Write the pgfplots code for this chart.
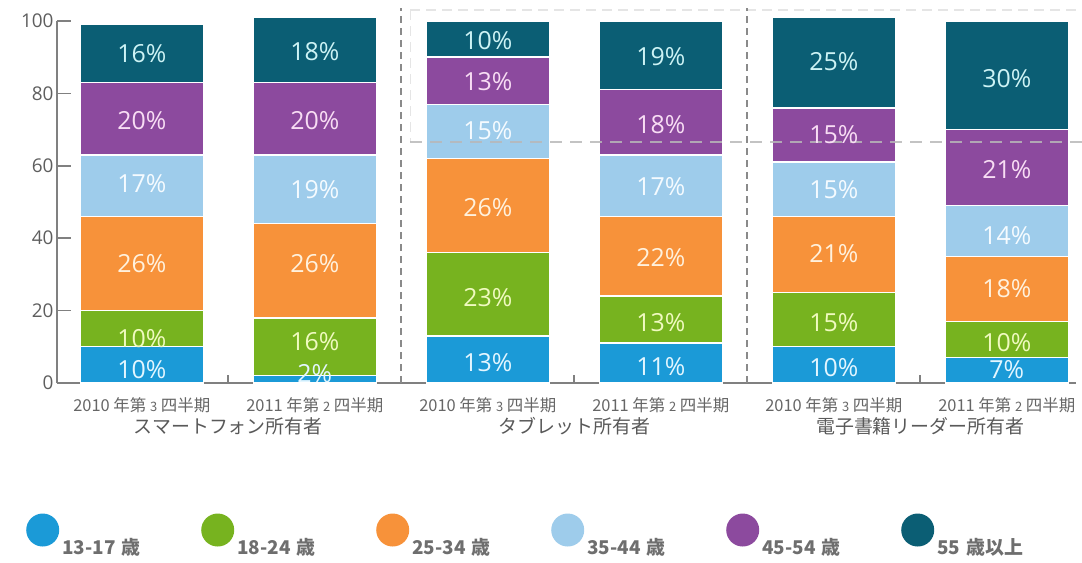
\documentclass[border=0pt]{standalone}
\usepackage{pgfplots}
\pgfplotsset{compat=1.18}
\usepackage{pgfplotstable}
\usepackage{fontspec}
\setmainfont{Open Sans}
\newfontfamily\cjk{Noto Sans CJK JP}
\definecolor{cA}{HTML}{1B9AD7}
\definecolor{cB}{HTML}{77B31F}
\definecolor{cC}{HTML}{F7923A}
\definecolor{cD}{HTML}{9ECCEB}
\definecolor{cE}{HTML}{8C4A9E}
\definecolor{cF}{HTML}{0B5E74}
\definecolor{tA}{HTML}{E3F6FF}
\definecolor{tB}{HTML}{F0FAC0}
\definecolor{tC}{HTML}{FFF1DD}
\definecolor{tD}{HTML}{F5FBFF}
\definecolor{tE}{HTML}{F8DDF4}
\definecolor{tF}{HTML}{CDF3F5}
\definecolor{axgray}{HTML}{808080}
\definecolor{tickgray}{HTML}{5E5E5E}
\definecolor{labgray}{HTML}{666666}
\definecolor{leggray}{HTML}{6E6E6E}
\definecolor{sepgray}{HTML}{8A8A8A}

\pgfplotstableread{
x a b c d e f ya yb yc yd ye yf
0 10 10 26 17 20 16 3.6 12.4 33.0 55.0 72.5 91.0
1 2 16 26 19 20 18 2.5 11.3 33.0 53.5 72.5 91.5
2 13 23 26 15 13 10 5.5 23.5 48.5 69.8 83.2 94.5
3 11 13 22 17 18 19 4.5 16.8 34.7 54.2 71.5 90.2
4 10 15 21 15 15 25 4.3 16.8 35.7 53.5 68.5 88.7
5 7 10 18 14 21 30 3.6 11.2 26.2 40.8 59.0 84.0
}\data

\pgfplotsset{
  base/.style={scale only axis, width=1018.97bp, height=362bp,
    xmin=-0.49, xmax=5.4, ymin=0, ymax=100,
    at={(57bp,180bp)}, anchor=south west, clip=false,
    /pgf/number format/assume math mode=true},
  circ/.style={legend image code/.code={\fill[##1,draw=none] (0bp,17bp) circle (16.5bp);}},
  lab/.style={draw=none, mark=none, point meta=explicit,
    nodes near coords={\pgfmathprintnumber{\pgfplotspointmeta}\%},
    every node near coord/.append style={anchor=center,
      font=\fontsize{25}{25}\selectfont, text=#1}},
}

\begin{document}
\begin{tikzpicture}
\useasboundingbox (0,0) rectangle (1082bp,563bp);
\begin{axis}[base,
  ybar stacked, bar width=0.711,
  axis lines*=left,
  axis line style={draw=axgray, line width=1.6bp},
  ytick={0,20,...,100},
  tick align=inside,
  major tick length=14bp,
  ytick style={draw=axgray, line width=1.6bp},
  yticklabel style={font=\fontsize{19}{19}\selectfont, text=tickgray},
  xtick={0,...,5},
  xtick style={draw=none},
  xticklabels={2010 年第 {\fontsize{13}{13}\selectfont 3} 四半期, 2011 年第 {\fontsize{13}{13}\selectfont 2} 四半期,
               2010 年第 {\fontsize{13}{13}\selectfont 3} 四半期, 2011 年第 {\fontsize{13}{13}\selectfont 2} 四半期,
               2010 年第 {\fontsize{13}{13}\selectfont 3} 四半期, 2011 年第 {\fontsize{13}{13}\selectfont 2} 四半期},
  xticklabel style={font=\cjk\fontsize{16.5}{16.5}\selectfont, text=labgray, anchor=center, yshift=-22bp},
  legend columns=6,
  legend style={at={(-0.0304,-0.36)}, anchor=north west, draw=none, fill=none,
    inner sep=0pt,
    /tikz/every even column/.append style={column sep=38bp},
    nodes={font=\cjk\bfseries\fontsize{19}{19}\selectfont, text=leggray,
      text width=98bp, align=left, inner sep=3bp}},
]
\addplot[fill=cA, draw=white, line width=1.4bp, circ] table[x=x,y=a]{\data};
\addlegendentry{13-17 歳}
\addplot[fill=cB, draw=white, line width=1.4bp, circ] table[x=x,y=b]{\data};
\addlegendentry{18-24 歳}
\addplot[fill=cC, draw=white, line width=1.4bp, circ] table[x=x,y=c]{\data};
\addlegendentry{25-34 歳}
\addplot[fill=cD, draw=white, line width=1.4bp, circ] table[x=x,y=d]{\data};
\addlegendentry{35-44 歳}
\addplot[fill=cE, draw=white, line width=1.4bp, circ] table[x=x,y=e]{\data};
\addlegendentry{45-54 歳}
\addplot[fill=cF, draw=white, line width=1.4bp, circ] table[x=x,y=f]{\data};
\addlegendentry{55 歳以上}
% separators
\draw[sepgray, line width=1.8bp, dash pattern=on 7bp off 5bp] (axis cs:1.5,0) -- (axis cs:1.5,103.6);
\draw[sepgray, line width=1.8bp, dash pattern=on 7bp off 5bp] (axis cs:3.5,0) -- (axis cs:3.5,103.6);
\draw[black!10, line width=1.5bp, dash pattern=on 10bp off 6bp] (axis cs:1.552,103) -- (axis cs:5.45,103);
\draw[black!10, line width=1.5bp, dash pattern=on 10bp off 6bp] (axis cs:1.552,103) -- (axis cs:1.552,66.6);
\draw[axgray, line width=1.6bp] (axis cs:0.5,0) -- ([yshift=8bp]axis cs:0.5,0);
\draw[axgray, line width=1.6bp] (axis cs:2.5,0) -- ([yshift=8bp]axis cs:2.5,0);
\draw[axgray, line width=1.6bp] (axis cs:4.5,0) -- ([yshift=8bp]axis cs:4.5,0);
% group labels
\node[font=\cjk\fontsize{19}{19}\selectfont, text=black!65] at ([yshift=-43bp]axis cs:0.5,0) {スマートフォン所有者};
\node[font=\cjk\fontsize{19}{19}\selectfont, text=black!65] at ([yshift=-43bp]axis cs:2.5,0) {タブレット所有者};
\node[font=\cjk\fontsize{19}{19}\selectfont, text=black!65] at ([yshift=-43bp]axis cs:4.5,0) {電子書籍リーダー所有者};
\end{axis}
\begin{axis}[base, hide axis]
\addplot[lab=tA] table[x=x,y=ya,meta=a]{\data};
\addplot[lab=tB] table[x=x,y=yb,meta=b]{\data};
\addplot[lab=tC] table[x=x,y=yc,meta=c]{\data};
\addplot[lab=tD] table[x=x,y=yd,meta=d]{\data};
\addplot[lab=tE] table[x=x,y=ye,meta=e]{\data};
\addplot[lab=tF] table[x=x,y=yf,meta=f]{\data};
\draw[black!28, opacity=0.85, line width=2.6bp, dash pattern=on 12bp off 8bp] (axis cs:1.552,66.6) -- (axis cs:5.45,66.6);
\end{axis}
\end{tikzpicture}
\end{document}
